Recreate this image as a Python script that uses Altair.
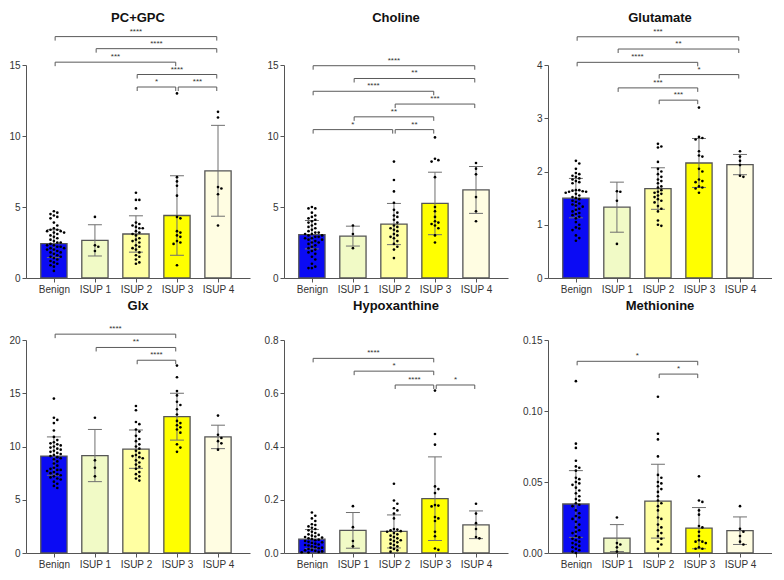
import altair as alt
import pandas as pd

CATS = ["Benign", "ISUP 1", "ISUP 2", "ISUP 3", "ISUP 4"]
COLORS = ["#0B0BF4", "#F1FAC6", "#FFFFA2", "#FFFF00", "#FFFDE2"]

# ---------------- PC+GPC ----------------
PCGPC_MEAN = [2.42, 2.65, 3.1, 4.4, 7.55]
PCGPC_SD = [0.98, 1.1, 1.28, 2.8, 3.2]
PCGPC_POINTS = [
    [4.7, 4.6, 4.5, 4.4, 4.3, 4.2, 3.9, 3.7, 3.5, 3.4, 3.4, 3.3, 3.3, 3.2, 3.2, 3.1, 3.0, 2.9, 2.8,
     2.7, 2.6, 2.5, 2.5, 2.4, 2.3, 2.3, 2.2, 2.2, 2.1, 2.1, 2.0, 2.0, 1.9, 1.8, 1.8, 1.7, 1.6, 1.5,
     1.5, 1.4, 1.3, 1.2, 1.1, 1.0, 0.9, 0.8, 0.5],
    [4.3, 2.3, 2.2, 1.9],
    [6.0, 5.5, 5.5, 4.9, 3.9, 3.8, 3.7, 3.6, 3.5, 3.5, 3.3, 3.2, 3.1, 3.0, 2.8, 2.7, 2.6, 2.5, 2.3,
     2.2, 2.1, 2.0, 1.8, 1.6, 1.5, 1.3, 1.1, 1.0],
    [13.0, 7.1, 6.8, 6.5, 5.8, 4.3, 4.2, 3.3, 3.2, 3.0, 2.9, 2.6, 2.5, 2.4, 0.9],
    [11.7, 11.3, 6.4, 6.3, 5.9, 3.7],
]
PCGPC_BRACKETS = [(0, 4, 17.0, "****"), (1, 4, 16.15, "****"), (0, 3, 15.2, "***"),
                  (2, 4, 14.33, "****"), (2, 3, 13.45, "*"), (3, 4, 13.45, "***")]

# ---------------- Choline ----------------
CHOLINE_MEAN = [3.05, 2.95, 3.8, 5.25, 6.2]
CHOLINE_SD = [1.0, 0.7, 1.45, 2.2, 1.65]
CHOLINE_POINTS = [
    [5.0, 4.9, 4.9, 4.6, 4.4, 4.3, 4.2, 4.1, 4.0, 3.9, 3.8, 3.7, 3.6, 3.5, 3.4, 3.3, 3.2, 3.2, 3.1,
     3.1, 3.0, 3.0, 2.9, 2.9, 2.8, 2.8, 2.7, 2.7, 2.6, 2.5, 2.5, 2.4, 2.3, 2.2, 2.1, 2.0, 1.9, 1.8,
     1.7, 1.5, 1.3, 1.0, 0.8, 0.7, 0.7],
    [3.7, 3.1, 2.1],
    [8.2, 6.9, 6.1, 5.3, 4.8, 4.6, 4.4, 4.3, 4.1, 3.9, 3.7, 3.6, 3.5, 3.4, 3.3, 3.1, 3.0, 2.9, 2.8,
     2.6, 2.4, 2.2, 2.0, 1.4],
    [9.9, 8.4, 8.3, 8.2, 7.1, 5.0, 4.7, 4.3, 4.0, 3.9, 3.8, 3.7, 3.5, 3.0, 2.5],
    [8.1, 7.7, 7.3, 5.7, 4.7, 4.0],
]
CHOLINE_BRACKETS = [(0, 4, 14.95, "****"), (1, 4, 14.05, "**"), (0, 3, 13.15, "****"),
                    (2, 4, 12.25, "***"), (1, 3, 11.35, "**"), (0, 2, 10.45, "*"), (2, 3, 10.45, "**")]

# ---------------- Glutamate ----------------
GLUT_MEAN = [1.5, 1.33, 1.68, 2.16, 2.13]
GLUT_SD = [0.37, 0.47, 0.39, 0.46, 0.19]
GLUT_POINTS = [
    [2.2, 2.15, 2.05, 1.97, 1.95, 1.92, 1.9, 1.87, 1.85, 1.82, 1.8, 1.78, 1.65, 1.65, 1.64, 1.63,
     1.62, 1.62, 1.6, 1.58, 1.55, 1.52, 1.5, 1.48, 1.45, 1.43, 1.4, 1.38, 1.36, 1.34, 1.3, 1.28,
     1.25, 1.22, 1.2, 1.18, 1.15, 1.12, 1.05, 1.0, 0.95, 0.93, 0.9, 0.8, 0.75, 0.7],
    [1.63, 1.62, 1.45, 0.64],
    [2.52, 2.47, 2.45, 2.18, 2.05, 2.0, 1.95, 1.9, 1.85, 1.82, 1.78, 1.72, 1.7, 1.65, 1.62, 1.6,
     1.58, 1.55, 1.52, 1.48, 1.45, 1.42, 1.35, 1.3, 1.25, 1.08, 1.0, 0.98],
    [3.2, 2.65, 2.63, 2.6, 2.38, 2.3, 2.28, 2.05, 2.0, 1.85, 1.82, 1.8, 1.72, 1.7, 1.68, 1.6],
    [2.38, 2.28, 2.2, 2.12, 1.92, 1.9],
]
GLUT_BRACKETS = [(0, 4, 4.53, "***"), (1, 4, 4.3, "**"), (0, 3, 4.05, "****"),
                 (2, 4, 3.82, "*"), (1, 3, 3.57, "***"), (2, 3, 3.34, "***")]

# ---------------- Glx ----------------
GLX_MEAN = [9.1, 9.15, 9.75, 12.8, 10.9]
GLX_SD = [1.8, 2.45, 1.8, 2.2, 1.1]
GLX_POINTS = [
    [14.5, 12.7, 12.5, 12.2, 11.5, 10.9, 10.6, 10.4, 10.3, 10.2, 10.1, 10.0, 9.9, 9.8, 9.7, 9.6,
     9.5, 9.4, 9.3, 9.2, 9.1, 9.0, 8.9, 8.8, 8.6, 8.4, 8.2, 8.0, 7.9, 7.8, 7.8, 7.7, 7.6, 7.5, 7.4,
     7.3, 7.2, 7.1, 7.0, 6.9, 6.7, 6.5, 6.3, 6.1],
    [12.7, 8.7, 8.0, 7.2],
    [13.8, 13.4, 12.3, 12.1, 11.6, 11.4, 11.0, 10.7, 10.5, 10.2, 10.0, 9.8, 9.6, 9.4, 9.2, 9.1, 9.0,
     8.9, 8.7, 8.5, 8.3, 8.1, 7.9, 7.6, 7.4, 7.2, 7.0, 6.8],
    [17.6, 16.5, 15.2, 14.8, 14.2, 13.9, 13.5, 13.0, 12.4, 12.2, 12.0, 11.8, 11.6, 11.3, 10.2, 9.9, 9.5],
    [12.9, 11.1, 10.8, 10.5, 10.3, 9.7],
]
GLX_BRACKETS = [(0, 3, 20.55, "****"), (1, 3, 19.3, "**"), (2, 3, 18.1, "****")]

# ---------------- Hypoxanthine ----------------
HYPO_MEAN = [0.052, 0.085, 0.081, 0.204, 0.106]
HYPO_SD = [0.036, 0.067, 0.062, 0.157, 0.052]
HYPO_POINTS = [
    [0.152, 0.14, 0.13, 0.12, 0.108, 0.105, 0.1, 0.095, 0.09, 0.085, 0.08, 0.075, 0.07, 0.068,
     0.065, 0.062, 0.06, 0.058, 0.055, 0.052, 0.05, 0.048, 0.045, 0.042, 0.04, 0.038, 0.035, 0.032,
     0.03, 0.028, 0.025, 0.022, 0.02, 0.018, 0.015, 0.012, 0.01, 0.008, 0.006, 0.004, 0.003, 0.002],
    [0.176, 0.097, 0.045, 0.025],
    [0.26, 0.197, 0.185, 0.168, 0.16, 0.148, 0.13, 0.09, 0.088, 0.085, 0.082, 0.08, 0.075, 0.07,
     0.065, 0.06, 0.055, 0.05, 0.048, 0.045, 0.04, 0.035, 0.03, 0.025, 0.02, 0.015, 0.01, 0.005],
    [0.61, 0.447, 0.407, 0.25, 0.24, 0.225, 0.18, 0.178, 0.175, 0.135, 0.13, 0.12, 0.08, 0.063,
     0.017, 0.012],
    [0.185, 0.148, 0.112, 0.09, 0.06, 0.055],
]
HYPO_BRACKETS = [(0, 3, 0.731, "****"), (1, 3, 0.683, "*"), (2, 3, 0.631, "****"), (3, 4, 0.631, "*")]

# ---------------- Methionine ----------------
METH_MEAN = [0.0345, 0.0105, 0.0365, 0.0175, 0.0157]
METH_SD = [0.0235, 0.0095, 0.026, 0.0145, 0.0097]
METH_POINTS = [
    [0.121, 0.077, 0.074, 0.065, 0.061, 0.06, 0.058, 0.053, 0.052, 0.05, 0.049, 0.048, 0.046,
     0.044, 0.042, 0.04, 0.038, 0.037, 0.035, 0.034, 0.033, 0.03, 0.028, 0.026, 0.025, 0.024,
     0.022, 0.02, 0.018, 0.016, 0.015, 0.014, 0.012, 0.011, 0.01, 0.009, 0.008, 0.007, 0.006,
     0.005, 0.004, 0.003, 0.002, 0.001, 0.0],
    [0.025, 0.007, 0.006, 0.004, 0.001],
    [0.110, 0.084, 0.080, 0.068, 0.055, 0.053, 0.05, 0.049, 0.047, 0.045, 0.043, 0.04, 0.037,
     0.035, 0.033, 0.03, 0.025, 0.024, 0.02, 0.018, 0.016, 0.014, 0.012, 0.01, 0.008, 0.006, 0.003],
    [0.054, 0.037, 0.036, 0.030, 0.027, 0.019, 0.018, 0.015, 0.012, 0.009, 0.008, 0.008, 0.007,
     0.004, 0.003, 0.003],
    [0.033, 0.017, 0.015, 0.012, 0.008, 0.006],
]
METH_BRACKETS = [(0, 3, 0.135, "*"), (2, 3, 0.126, "*")]

# ---------------- layout constants ----------------
W = 224
H = 213
XMIN, XMAX = -0.68, 4.78
FONT = "Liberation Sans"
AX_COL = "#555555"


def swarm(values, ymax):
    """Deterministic beeswarm offsets (x units) so dots do not overlap."""
    px_x = W / (XMAX - XMIN)
    px_y = H / ymax
    d = 3.4
    placed = []
    order = sorted(range(len(values)), key=lambda i: -values[i])
    offs = [0.0] * len(values)
    for i in order:
        y = values[i] * px_y
        k = 0
        while True:
            step = (k + 1) // 2 if k % 2 == 1 else -(k // 2)
            ox = step * d
            ok = all((ox - px) ** 2 + (y - py) ** 2 >= d * d for px, py in placed)
            if ok or abs(ox) > 12:
                break
            k += 1
        placed.append((ox, y))
        offs[i] = ox / px_x
    return offs


def panel(title, mean, sd, points, brackets, ymax, tick_vals, fmt, title_y):
    xs = alt.Scale(domain=[XMIN, XMAX], nice=False, zero=False)
    ys = alt.Scale(domain=[0, ymax], nice=False)
    label_expr = "[" + ",".join("'%s'" % c for c in CATS) + "][datum.value]"
    xaxis = alt.Axis(values=[0, 1, 2, 3, 4], labelExpr=label_expr, title=None, grid=False,
                     tickSize=4, labelFontSize=10, labelFont=FONT, labelColor="#333",
                     domainColor=AX_COL, tickColor=AX_COL, labelPadding=2)
    yaxis = alt.Axis(values=tick_vals, format=fmt, title=None, grid=False, tickSize=4,
                     labelFontSize=10, labelFont=FONT, labelColor="#333",
                     domainColor=AX_COL, tickColor=AX_COL, labelPadding=2)

    bar_df = pd.DataFrame({"idx": list(range(5)), "cat": CATS, "mean": mean, "sd": sd})
    bars = alt.Chart(bar_df).transform_calculate(
        xl="datum.idx - 0.32", xr="datum.idx + 0.32"
    ).mark_bar(stroke="#555555", strokeWidth=1.3).encode(
        x=alt.X("xl:Q", scale=xs, axis=xaxis),
        x2="xr:Q",
        y=alt.Y("mean:Q", scale=ys, axis=yaxis),
        y2=alt.datum(0),
        color=alt.Color("cat:N", scale=alt.Scale(domain=CATS, range=COLORS), legend=None),
    )
    err = alt.Chart(bar_df).transform_calculate(
        lo="datum.mean - datum.sd", hi="datum.mean + datum.sd"
    ).mark_rule(color="#6f6f6f", strokeWidth=1).encode(
        x=alt.X("idx:Q", scale=xs, axis=xaxis),
        y=alt.Y("lo:Q", scale=ys, axis=yaxis),
        y2="hi:Q",
    )
    caps_hi = alt.Chart(bar_df).transform_calculate(
        cl="datum.idx - 0.17", cr="datum.idx + 0.17", hi="datum.mean + datum.sd"
    ).mark_rule(color="#6f6f6f", strokeWidth=1).encode(
        x=alt.X("cl:Q", scale=xs, axis=xaxis), x2="cr:Q",
        y=alt.Y("hi:Q", scale=ys, axis=yaxis),
    )
    caps_lo = alt.Chart(bar_df).transform_calculate(
        cl="datum.idx - 0.17", cr="datum.idx + 0.17", lo="datum.mean - datum.sd"
    ).mark_rule(color="#6f6f6f", strokeWidth=1).encode(
        x=alt.X("cl:Q", scale=xs, axis=xaxis), x2="cr:Q",
        y=alt.Y("lo:Q", scale=ys, axis=yaxis),
    )

    rows = []
    for gi, vals in enumerate(points):
        offs = swarm(vals, ymax)
        for v, o in zip(vals, offs):
            rows.append({"px": gi + o, "val": v})
    pt_df = pd.DataFrame(rows)
    dots = alt.Chart(pt_df).mark_circle(size=7, color="black", opacity=1).encode(
        x=alt.X("px:Q", scale=xs, axis=xaxis),
        y=alt.Y("val:Q", scale=ys, axis=yaxis),
    )

    drop = 4.0 * ymax / H
    inset = 0.03
    br_df = pd.DataFrame({
        "a": [b[0] + inset for b in brackets],
        "b": [b[1] - inset for b in brackets],
        "h": [b[2] for b in brackets],
        "lab": [b[3] for b in brackets],
    })
    br_df["hd"] = br_df["h"] - drop
    br_df["mid"] = (br_df["a"] + br_df["b"]) / 2
    bcol = "#5a5a5a"
    hline = alt.Chart(br_df).mark_rule(color=bcol, strokeWidth=1).encode(
        x=alt.X("a:Q", scale=xs, axis=xaxis), x2="b:Q",
        y=alt.Y("h:Q", scale=ys, axis=yaxis))
    lt = alt.Chart(br_df).mark_rule(color=bcol, strokeWidth=1).encode(
        x=alt.X("a:Q", scale=xs, axis=xaxis),
        y=alt.Y("h:Q", scale=ys, axis=yaxis), y2="hd:Q")
    rt = alt.Chart(br_df).mark_rule(color=bcol, strokeWidth=1).encode(
        x=alt.X("b:Q", scale=xs, axis=xaxis),
        y=alt.Y("h:Q", scale=ys, axis=yaxis), y2="hd:Q")
    labs = alt.Chart(br_df).mark_text(fontSize=8, font=FONT, color="#333", baseline="bottom",
                                      dy=-1).encode(
        x=alt.X("mid:Q", scale=xs, axis=xaxis),
        y=alt.Y("h:Q", scale=ys, axis=yaxis),
        text="lab:N")

    ttl = alt.Chart(pd.DataFrame({"t": [title]})).mark_text(
        fontSize=13, fontWeight="bold", font=FONT, color="#111", baseline="alphabetic"
    ).encode(text="t:N", x=alt.value(W / 2), y=alt.value(title_y))

    return alt.layer(bars, err, caps_hi, caps_lo, dots, hline, lt, rt, labs, ttl).properties(
        width=W, height=H)


p1 = panel("PC+GPC", PCGPC_MEAN, PCGPC_SD, PCGPC_POINTS, PCGPC_BRACKETS, 15, [0, 5, 10, 15], "d", -43)
p2 = panel("Choline", CHOLINE_MEAN, CHOLINE_SD, CHOLINE_POINTS, CHOLINE_BRACKETS, 15, [0, 5, 10, 15], "d", -43)
p3 = panel("Glutamate", GLUT_MEAN, GLUT_SD, GLUT_POINTS, GLUT_BRACKETS, 4, [0, 1, 2, 3, 4], "d", -43)
p4 = panel("Glx", GLX_MEAN, GLX_SD, GLX_POINTS, GLX_BRACKETS, 20, [0, 5, 10, 15, 20], "d", -30)
p5 = panel("Hypoxanthine", HYPO_MEAN, HYPO_SD, HYPO_POINTS, HYPO_BRACKETS, 0.8,
           [0, 0.2, 0.4, 0.6, 0.8], ".1f", -30)
p6 = panel("Methionine", METH_MEAN, METH_SD, METH_POINTS, METH_BRACKETS, 0.15,
           [0, 0.05, 0.10, 0.15], ".2f", -30)

chart = alt.concat(
    p1, p2, p3, p4, p5, p6, columns=3,
    spacing=alt.RowColnumber(row=6, column=14),
    align="each",
).properties(
    padding={"top": 4, "left": 0, "right": 0, "bottom": 0}, background="white"
).configure_view(stroke=None)

chart.save("out.html", embed_options={"renderer": "svg", "actions": False})
